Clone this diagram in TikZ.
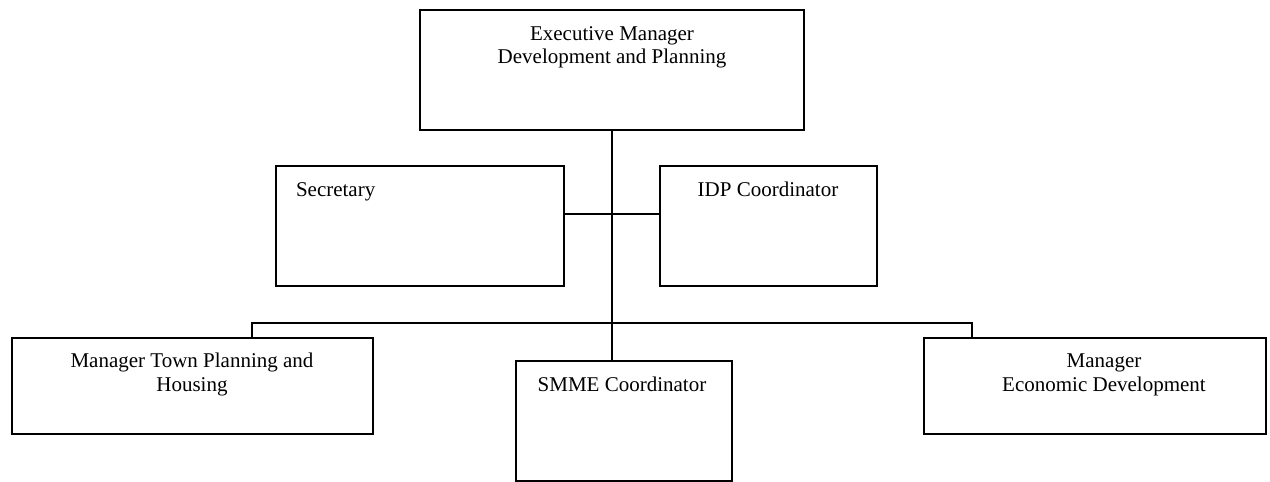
\documentclass[tikz,border=0pt]{standalone}
\usepackage{fontspec}
\setmainfont{Liberation Serif}
\begin{document}
\begin{tikzpicture}[x=1pt,y=-1pt,
  box/.style={draw=black, line width=1.8pt, fill=white, inner sep=0pt, outer sep=0pt, anchor=north west},
  wire/.style={draw=black, line width=1.7pt},
  lbl/.style={inner sep=0pt, outer sep=0pt, font=\fontsize{21}{24}\selectfont}]
\useasboundingbox (0,0) rectangle (1270,482);
\fill[white] (0,0) rectangle (1270,482);

% boxes
\node[box, minimum width=384pt, minimum height=120pt] (exec) at (420,10) {};
\node[box, minimum width=288pt, minimum height=120pt] (sec)  at (276,166) {};
\node[box, minimum width=217pt, minimum height=120pt] (idp)  at (660,166) {};
\node[box, minimum width=361pt, minimum height=96pt]  (town) at (12,338) {};
\node[box, minimum width=216pt, minimum height=120pt] (smme) at (516,361) {};
\node[box, minimum width=342pt, minimum height=96pt]  (econ) at (924,338) {};

% junction points
\coordinate (mid)  at (612,214);
\coordinate (busL) at (252,323);
\coordinate (busR) at (972,323);

% connectors
\draw[wire] (exec.south) -- (exec.south |- smme.north);
\draw[wire] (sec.east |- mid) -- (idp.west |- mid);
\draw[wire] (town.north -| busL) -- (busL) -- (busR) -- (econ.north -| busR);

% labels
\node[lbl, anchor=base] (execA) at (612,40) {Executive Manager};
\node[lbl, anchor=base] (execB) at (612,63) {Development and Planning};
\node[lbl, anchor=base west] (secT) at (296,196) {Secretary};
\node[lbl, anchor=base] (idpT) at (768,196) {IDP Coordinator};
\node[lbl, anchor=base] (townA) at (192,367) {Manager Town Planning and};
\node[lbl, anchor=base] (townB) at (192,391) {Housing};
\node[lbl, anchor=base] (smmeT) at (622,391) {SMME Coordinator};
\node[lbl, anchor=base] (econA) at (1104,367) {Manager};
\node[lbl, anchor=base] (econB) at (1104,391) {Economic Development};
\end{tikzpicture}
\end{document}
